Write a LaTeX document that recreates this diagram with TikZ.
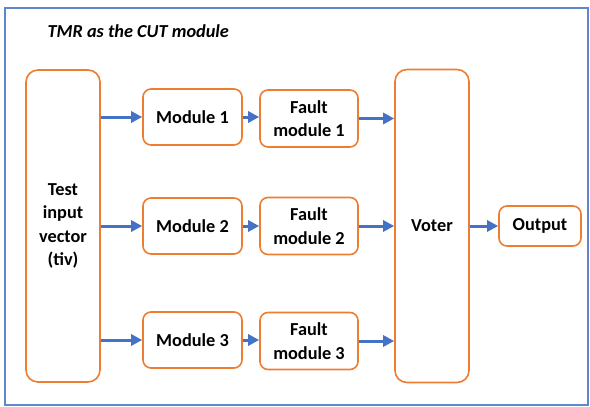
\documentclass[tikz,border=0pt]{standalone}
\usepackage{fontspec}
\setmainfont{Carlito}
\usepackage{xcolor}
\usetikzlibrary{positioning, arrows.meta}

\definecolor{boxorange}{HTML}{ED7D31}
\definecolor{flowblue}{HTML}{4472C4}

\begin{document}
\begin{tikzpicture}[x=1pt, y=-1pt,
    block/.style={rectangle, draw=boxorange, line width=1.6pt, rounded corners=8pt, align=center, inner sep=0pt,
        font=\fontsize{18.3}{23.5}\selectfont\bfseries},
    tall/.style={block, rounded corners=12pt, minimum width=74pt, minimum height=312pt},
    flow/.style={-{Triangle[length=11pt, width=11pt]}, flowblue, line width=3pt}]
    \useasboundingbox (0,0) rectangle (590,407);
    % Frame and title
    \draw[flowblue!85, line width=1.4pt] (5,8) rectangle (588,405);
    \node (title) [anchor=west, font=\fontsize{18.3}{22}\selectfont\bfseries\itshape] at (44,31) {TMR as the CUT module};

    % Nodes
    \node (tiv) [tall] at (63,226) {Test\\input\\vector\\(tiv)};
    \node (mod2) [block, right=41.4pt of tiv, minimum width=99pt, minimum height=56pt] {Module 2};
    \node (mod1) [block, above=51.4pt of mod2, minimum width=99pt, minimum height=56pt] {Module 1};
    \node (mod3) [block, below=56.4pt of mod2, minimum width=99pt, minimum height=56pt] {Module 3};
    \node (fault1) [block, right=16.4pt of mod1, yshift=-1.5pt, minimum width=98pt, minimum height=57pt] {Fault\\module 1};
    \node (fault2) [block, right=16.4pt of mod2, minimum width=98pt, minimum height=57pt] {Fault\\module 2};
    \node (fault3) [block, right=16.4pt of mod3, yshift=-1pt, minimum width=98pt, minimum height=57pt] {Fault\\module 3};
    \node (voter) [tall, right=35.4pt of fault2, minimum height=313pt] {Voter};
    \node (output) [block, right=28.4pt of voter, minimum width=82pt, minimum height=40pt] {Output};

    % Flows
    \draw[flow] (tiv.east |- mod1) -- (mod1);
    \draw[flow] (tiv.east |- mod2) -- (mod2);
    \draw[flow] (tiv.east |- mod3) -- (mod3);
    \draw[flow] (mod1) -- (mod1 -| fault1.west);
    \draw[flow] (mod2) -- (mod2 -| fault2.west);
    \draw[flow] (mod3) -- (mod3 -| fault3.west);
    \draw[flow] (fault1) -- (fault1 -| voter.west);
    \draw[flow] (fault2) -- (fault2 -| voter.west);
    \draw[flow] (fault3) -- (fault3 -| voter.west);
    \draw[flow] (voter) -- (output);
\end{tikzpicture}
\end{document}
